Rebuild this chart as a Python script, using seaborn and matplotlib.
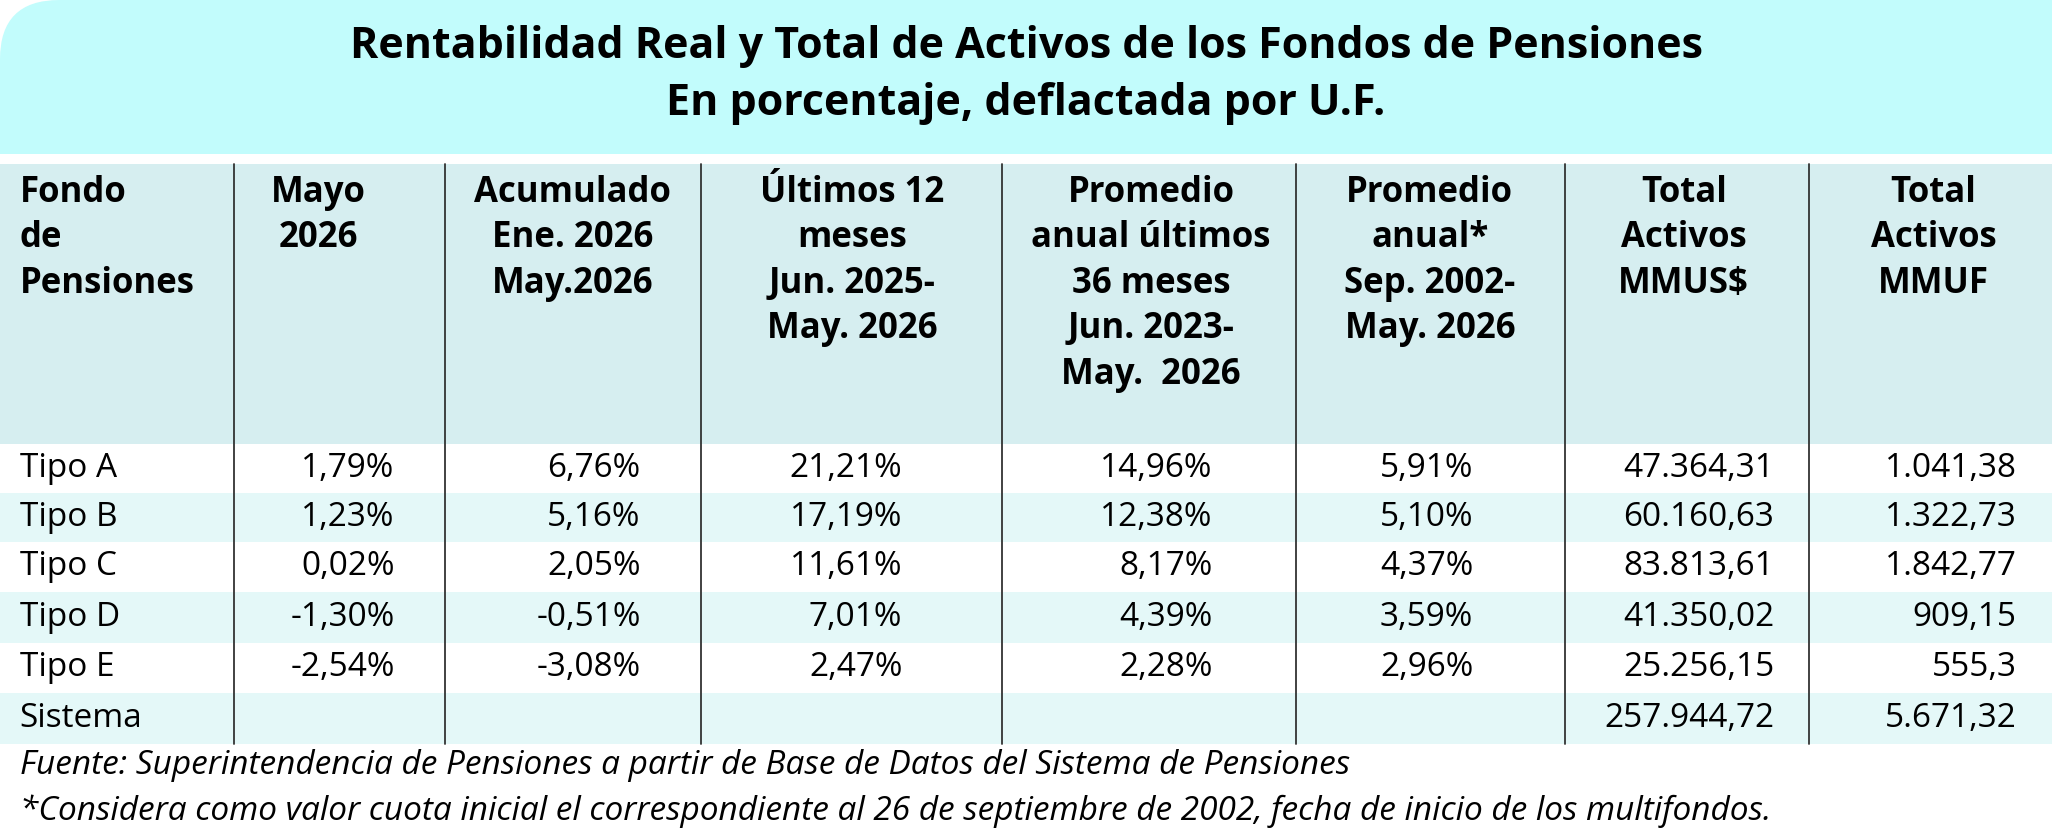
import matplotlib
matplotlib.use("Agg")
import matplotlib.pyplot as plt
import matplotlib.patches as mpatches
import seaborn as sns

# --- data ---
TITLE_1 = "Rentabilidad Real y Total de Activos de los Fondos de Pensiones"
TITLE_2 = "En porcentaje, deflactada por U.F."

HEADERS = [
    "Fondo\nde\nPensiones",
    "Mayo\n2026",
    "Acumulado\nEne. 2026\nMay.2026",
    "Últimos 12\nmeses\nJun. 2025-\nMay. 2026",
    "Promedio\nanual últimos\n36 meses\nJun. 2023-\nMay.  2026",
    "Promedio\nanual*\nSep. 2002-\nMay. 2026",
    "Total\nActivos\nMMUS$",
    "Total\nActivos\nMMUF",
]
FONDOS = ["Tipo A", "Tipo B", "Tipo C", "Tipo D", "Tipo E", "Sistema"]
MAYO = ["1,79%", "1,23%", "0,02%", "-1,30%", "-2,54%", ""]
ACUMULADO = ["6,76%", "5,16%", "2,05%", "-0,51%", "-3,08%", ""]
ULT12 = ["21,21%", "17,19%", "11,61%", "7,01%", "2,47%", ""]
PROM36 = ["14,96%", "12,38%", "8,17%", "4,39%", "2,28%", ""]
PROM_HIST = ["5,91%", "5,10%", "4,37%", "3,59%", "2,96%", ""]
ACTIVOS_USD = ["47.364,31", "60.160,63", "83.813,61", "41.350,02", "25.256,15", "257.944,72"]
ACTIVOS_UF = ["1.041,38", "1.322,73", "1.842,77", "909,15", "555,3", "5.671,32"]
FOOTNOTES = [
    "Fuente: Superintendencia de Pensiones a partir de Base de Datos del Sistema de Pensiones",
    "*Considera como valor cuota inicial el correspondiente al 26 de septiembre de 2002, fecha de inicio de los multifondos.",
]

# --- layout (in reference display units, 1560 x 636) ---
W, H = 1560, 636
COL_LINES = [178, 338, 533, 762, 985, 1190, 1375]
HEAD_X = [15, 242, 435, 648, 875, 1087, 1280, 1470]
NUM_RIGHT = [300, 487, 686, 922, 1120, 1349, 1533]
ROW_TOP = [338, 375, 412, 450, 489, 527, 566]

sns.set_theme(style="white")
plt.rcParams["font.family"] = ["Open Sans", "DejaVu Sans"]
plt.rcParams["text.color"] = "black"

fig = plt.figure(figsize=(20.52, 8.36), dpi=100)
ax = fig.add_axes([0, 0, 1, 1])
ax.set_xlim(0, W)
ax.set_ylim(H, 0)
ax.axis("off")

# title band with rounded top-left corner
ax.add_patch(mpatches.FancyBboxPatch((0, 0), W + 60, 117 + 60,
             boxstyle="round,pad=0,rounding_size=45", fc="#C2FCFC", ec="none"))
ax.add_patch(mpatches.Rectangle((0, 117), W, 60, fc="white", ec="none"))
ax.text(780, 35, TITLE_1, ha="center", va="center", fontsize=31, fontweight="bold")
ax.text(780, 79, TITLE_2, ha="center", va="center", fontsize=31, fontweight="bold")

# header band
ax.add_patch(mpatches.Rectangle((0, 125), W, 338 - 125, fc="#D6EEF0", ec="none"))
for i, h in enumerate(HEADERS):
    ax.text(HEAD_X[i], 133, h, ha="left" if i == 0 else "center", va="top",
            fontsize=25, fontweight="bold", linespacing=1.35)

# body rows
cols = [MAYO, ACUMULADO, ULT12, PROM36, PROM_HIST, ACTIVOS_USD, ACTIVOS_UF]
for r, name in enumerate(FONDOS):
    y0, y1 = ROW_TOP[r], ROW_TOP[r + 1]
    if r % 2 == 1:
        ax.add_patch(mpatches.Rectangle((0, y0), W, y1 - y0, fc="#E4F8F8", ec="none"))
    yc = (y0 + y1) / 2
    ax.text(15, yc, name, ha="left", va="center", fontsize=24)
    for c, vals in enumerate(cols):
        ax.text(NUM_RIGHT[c], yc, vals[r], ha="right", va="center", fontsize=24)

for x in COL_LINES:
    ax.plot([x, x], [125, ROW_TOP[-1]], color="#333333", lw=1.3)

ax.text(15, 582, FOOTNOTES[0], ha="left", va="center", fontsize=24, style="italic")
ax.text(15, 617, FOOTNOTES[1], ha="left", va="center", fontsize=24, style="italic")

fig.savefig("out.png", dpi=100, facecolor="white")
